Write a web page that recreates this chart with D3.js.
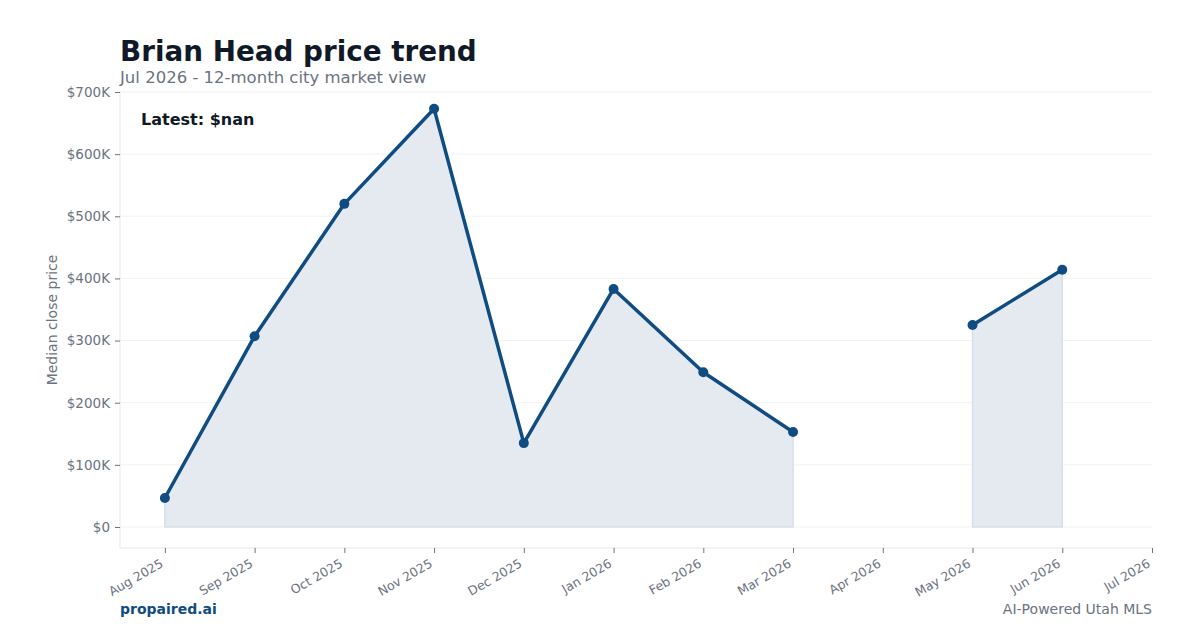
<!DOCTYPE html>
<html>
<head>
<meta charset="utf-8">
<script src="https://cdn.jsdelivr.net/npm/d3@7"></script>
<style>
  body { margin: 0; background: #fff; }
  text { font-family: "DejaVu Sans", sans-serif; }
</style>
</head>
<body>
<script>
// chart data
var months = ["Aug 2025", "Sep 2025", "Oct 2025", "Nov 2025", "Dec 2025", "Jan 2026",
              "Feb 2026", "Mar 2026", "Apr 2026", "May 2026", "Jun 2026", "Jul 2026"];
var prices = [46700, 307000, 520000, 673000, 135000, 383000,
              249000, 153000, null, 325000, 414000, null];
var yTicks = [0, 100000, 200000, 300000, 400000, 500000, 600000, 700000];

var width = 1200, height = 630;
var plotL = 120, plotR = 1152, plotT = 92, plotB = 548;

var svg = d3.select("body").append("svg")
    .attr("width", width)
    .attr("height", height);

var x = d3.scaleLinear().domain([-0.5, months.length - 1]).range([plotL, plotR]);
var y = d3.scaleLinear().domain([-33800, 700000]).range([plotB, plotT]);

// grid
svg.append("g").selectAll("line")
    .data(yTicks)
    .enter().append("line")
    .attr("x1", plotL).attr("x2", plotR)
    .attr("y1", function(d){ return y(d); })
    .attr("y2", function(d){ return y(d); })
    .attr("stroke", "#f1f2f4")
    .attr("stroke-width", 1);

// spines
svg.append("line").attr("x1", plotL).attr("x2", plotL).attr("y1", plotT).attr("y2", plotB)
    .attr("stroke", "#e5e7eb");
svg.append("line").attr("x1", plotL).attr("x2", plotR).attr("y1", plotB).attr("y2", plotB)
    .attr("stroke", "#e5e7eb");

// y axis
var yAxis = d3.axisLeft(y).tickValues(yTicks).tickSize(5).tickPadding(5)
    .tickFormat(function(d){ return d === 0 ? "$0" : "$" + d / 1000 + "K"; });
var gy = svg.append("g").attr("transform", "translate(" + plotL + ",0)").call(yAxis);
gy.select(".domain").remove();
gy.selectAll("line").attr("stroke", "#6b7280");
gy.selectAll("text").attr("fill", "#6b7280").style("font-size", "13.5px")
    .style("font-family", "DejaVu Sans");

// x axis
var xAxis = d3.axisBottom(x).tickValues(d3.range(months.length)).tickSize(5).tickPadding(4)
    .tickFormat(function(i){ return months[i]; });
var gx = svg.append("g").attr("transform", "translate(0," + plotB + ")").call(xAxis);
gx.select(".domain").remove();
gx.selectAll("line").attr("stroke", "#6b7280");
gx.selectAll("text").attr("fill", "#6b7280").style("font-size", "12.5px")
    .style("font-family", "DejaVu Sans")
    .attr("text-anchor", "end")
    .attr("x", 0).attr("y", 0)
    .attr("dx", 0).attr("dy", "0.75em")
    .attr("transform", "translate(-6,10) rotate(-30)");

// y label
svg.append("text")
    .attr("transform", "translate(57," + (plotT + plotB) / 2 + ") rotate(-90)")
    .attr("text-anchor", "middle")
    .attr("fill", "#6b7280")
    .style("font-size", "14px")
    .text("Median close price");

var pts = prices.map(function(v, i){ return {i: i, v: v}; });
var defined = function(d){ return d.v !== null; };

// area under line
var area = d3.area().defined(defined)
    .x(function(d){ return x(d.i); })
    .y0(y(0))
    .y1(function(d){ return y(d.v); });
svg.append("path").datum(pts)
    .attr("d", area)
    .attr("fill", "#e5eaf1")
    .attr("stroke", "#d6dfea")
    .attr("stroke-width", 1.5);

var line = d3.line().defined(defined)
    .x(function(d){ return x(d.i); })
    .y(function(d){ return y(d.v); });
svg.append("path").datum(pts)
    .attr("d", line)
    .attr("fill", "none")
    .attr("stroke", "#0f4c81")
    .attr("stroke-width", 3.5)
    .attr("stroke-linejoin", "round");

svg.append("g").selectAll("circle")
    .data(pts.filter(defined))
    .enter().append("circle")
    .attr("cx", function(d){ return x(d.i); })
    .attr("cy", function(d){ return y(d.v); })
    .attr("r", 5)
    .attr("fill", "#0f4c81");

// titles
svg.append("text").attr("x", 120).attr("y", 61)
    .attr("fill", "#111827")
    .style("font-size", "27.8px").style("font-weight", "bold")
    .text("Brian Head price trend");
svg.append("text").attr("x", 120).attr("y", 83)
    .attr("fill", "#6b7280")
    .style("font-size", "16.5px")
    .text("Jul 2026 - 12-month city market view");

svg.append("text").attr("x", 141).attr("y", 125)
    .attr("fill", "#111827")
    .style("font-size", "16px").style("font-weight", "bold")
    .text("Latest: $nan");

// footer
svg.append("text").attr("x", 120).attr("y", 614)
    .attr("fill", "#0f4c81")
    .style("font-size", "14px").style("font-weight", "bold")
    .text("propaired.ai");
svg.append("text").attr("x", 1152).attr("y", 614)
    .attr("text-anchor", "end")
    .attr("fill", "#6b7280")
    .style("font-size", "14px")
    .text("AI-Powered Utah MLS");
</script>
</body>
</html>
